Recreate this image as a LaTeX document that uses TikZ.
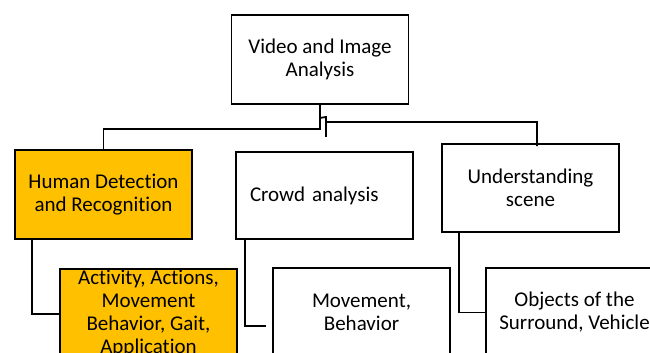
\documentclass[tikz,border=0pt]{standalone}
\usepackage{fontspec}
\setmainfont{Carlito}[Ligatures=NoCommon]
\usetikzlibrary{positioning}
\definecolor{boxorange}{HTML}{FFC000}
\tikzset{
        treebox/.style={draw=black, line width=1.8pt, align=center, inner sep=0pt, minimum width=177pt, minimum height=89pt, font=\fontsize{21}{23}\selectfont},
        % Highlighted boxes
        box_hl/.style={treebox, fill=boxorange},
        % Plain boxes
        box_plain/.style={treebox, fill=white},
        % Connectors
        link/.style={line width=1.8pt}
}
\begin{document}
\begin{tikzpicture}[x=1pt, y=-1pt]
    \useasboundingbox (0,0) rectangle (650,353);
    \clip (0,0) rectangle (650,353);
    % first level
    \node[box_plain] (video) at (320,59.5) {Video and Image\\Analysis};
    \node[box_hl] (human) at (103.5,194.5) {Human Detection\\and Recognition};
    \node[box_plain, text width=149pt, inner xsep=14pt, align=left, minimum height=87pt] (crowd) at (324.5,195.5) {Crowd analysis};
    \node[box_plain, minimum height=88pt] (scene) at (530.5,188) {Understanding\\scene};
    % second level
    \node[box_hl] (activity) at (148.5,313.5) {Activity, Actions,\\Movement\\Behavior, Gait,\\Application};
    \node[box_plain] (movement) at (361.5,312.5) {Movement,\\Behavior};
    \node[box_plain] (objects) at (574.5,312.5) {Objects of the\\Surround, Vehicle};
    % connectors
    \coordinate (hook) at (326,117);
    \coordinate (stub) at (326,137);
    \coordinate (crowd_end) at (266,326);
    \draw[link, line width=2.6pt] (video.south) -- ++(0,14);
    \draw[link] (video.south) -- ++(0,24) -| (human.north);
    \draw[link] (video.south) ++(0,13) -- (hook) |- ++(211,5) -- ([xshift=6.5pt, yshift=-3pt]scene.north);
    \draw[link] (hook) -- (stub);
    \draw[link] (human.south west) ++(18,0) |- ([yshift=-0.5pt]activity.west);
    \draw[link] (crowd.south west) ++(10,0) |- (crowd_end);
    \draw[link] (scene.south west) ++(18,0) |- (objects.west);
\end{tikzpicture}
\end{document}
